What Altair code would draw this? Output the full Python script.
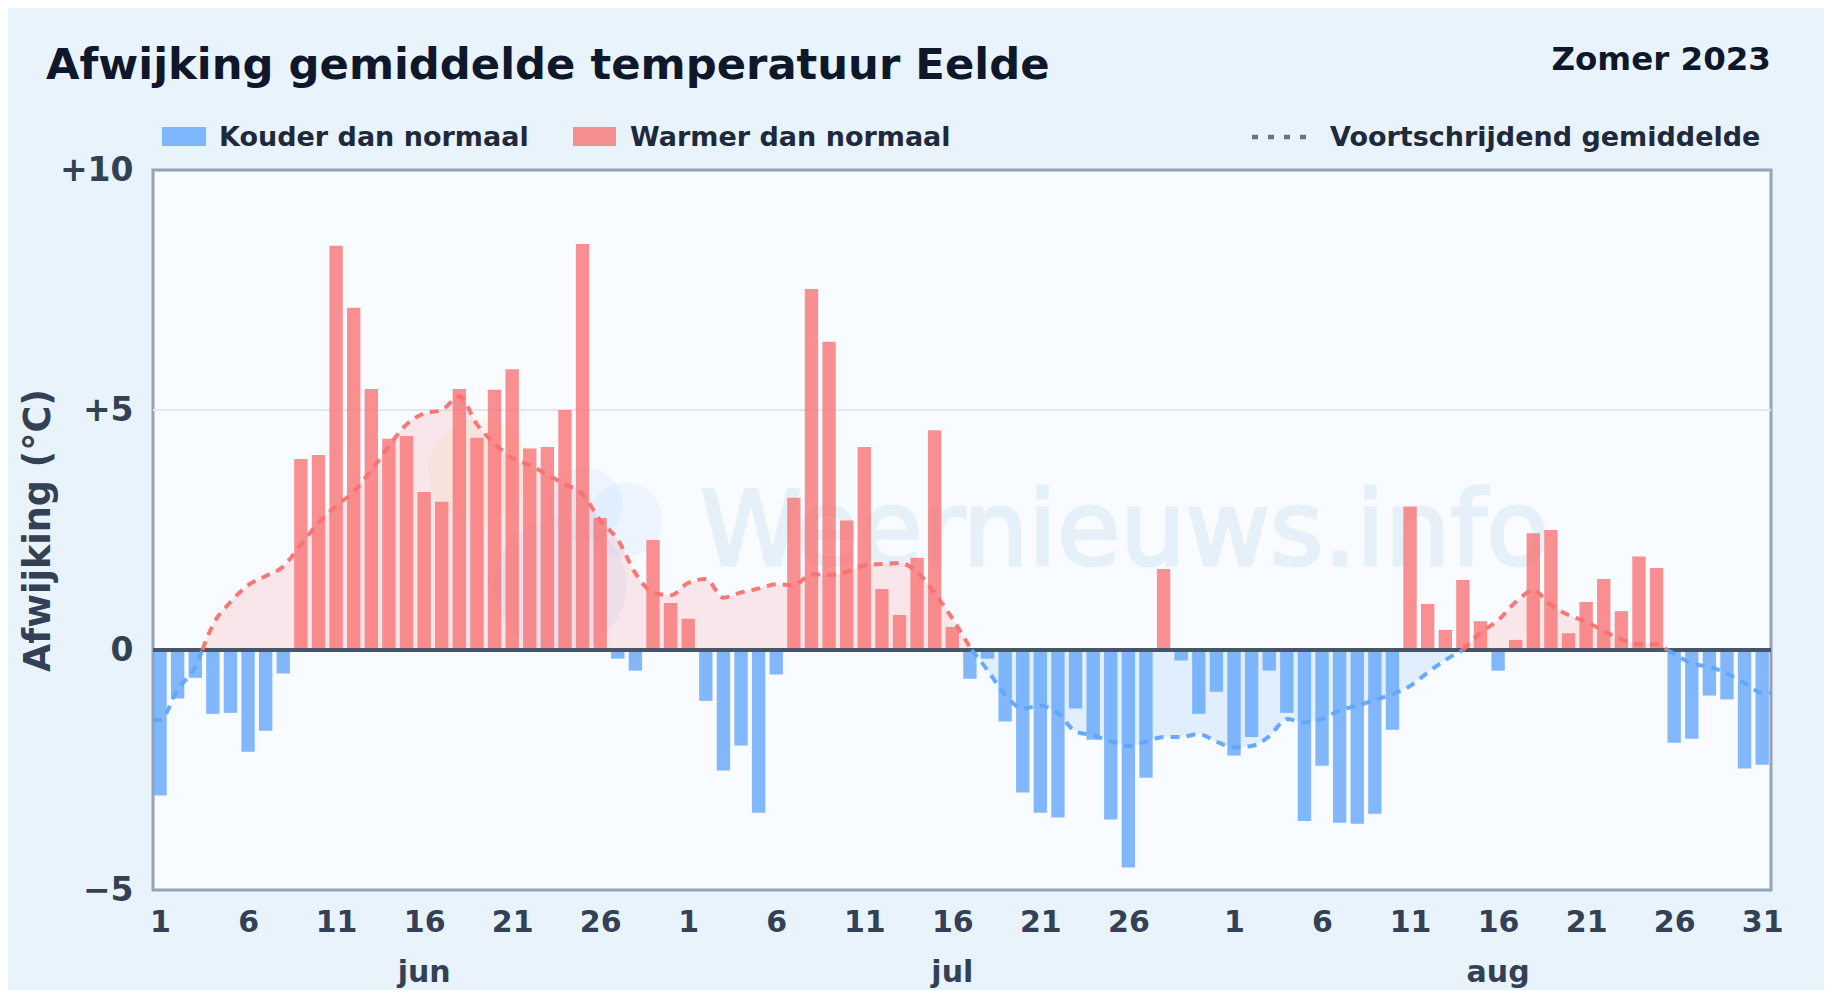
import altair as alt
import pandas as pd

FONT = "DejaVu Sans"
LEFT, TOP, W, H = 153, 170, 1618, 720

values = [
    -3.03, -1.01, -0.58, -1.33, -1.31, -2.12, -1.68, -0.49, 3.98, 4.06, 8.42, 7.13, 5.44, 4.40, 4.46,
    3.29, 3.09, 5.44, 4.42, 5.42, 5.85, 4.20, 4.23, 5.00, 8.46, 2.75, -0.18, -0.43, 2.29, 0.98,
    0.65, -1.06, -2.51, -1.99, -3.39, -0.51, 3.17, 7.52, 6.42, 2.70, 4.23, 1.27, 0.73, 1.92, 4.58,
    0.48, -0.60, -0.18, -1.49, -2.97, -3.39, -3.49, -1.22, -1.87, -3.53, -4.53, -2.66, 1.69, -0.22, -1.33, -0.87,
    -2.20, -1.81, -0.43, -1.31, -3.56, -2.41, -3.60, -3.62, -3.41, -1.66, 2.99, 0.96, 0.42, 1.46, 0.60,
    -0.43, 0.21, 2.43, 2.50, 0.35, 1.00, 1.48, 0.81, 1.95, 1.71, -1.93, -1.85, -0.95, -1.03, -2.47, -2.39,
]
moving = [
    -1.46, -0.82, -0.35, 0.52, 1.00, 1.35, 1.54, 1.74, 2.20, 2.65, 3.00, 3.30, 3.75, 4.25, 4.70,
    4.93, 5.00, 5.28, 4.70, 4.30, 4.00, 3.85, 3.65, 3.45, 3.25, 2.70, 2.30, 1.60, 1.20, 1.14,
    1.40, 1.48, 1.09, 1.20, 1.28, 1.37, 1.35, 1.58, 1.56, 1.63, 1.76, 1.79, 1.81, 1.63, 1.18,
    0.66, 0.06, -0.42, -0.94, -1.22, -1.16, -1.32, -1.70, -1.78, -1.90, -2.00, -1.91, -1.81, -1.81, -1.75, -1.91,
    -2.03, -2.00, -1.80, -1.44, -1.51, -1.44, -1.26, -1.16, -1.04, -0.92, -0.75, -0.47, -0.21, 0.00, 0.36,
    0.62, 1.00, 1.24, 0.94, 0.73, 0.59, 0.40, 0.22, 0.12, 0.12, -0.08, -0.28, -0.35, -0.49, -0.69, -0.89,
]
# day-index positions where the moving average crosses zero
crossings = [2.4, 46.1, 74.0, 85.6]
# segments of the moving average: (start, end, colour, filled)
segments = [
    (-0.4, 2.4, "#60a5fa", False),
    (2.4, 46.1, "#f87171", True),
    (46.1, 74.0, "#60a5fa", True),
    (74.0, 85.6, "#f87171", True),
    (85.6, 91.5, "#60a5fa", False),
]
tick_positions = [0, 5, 10, 15, 20, 25, 30, 35, 40, 45, 50, 55, 61, 66, 71, 76, 81, 86, 91]
tick_labels = ["1", "6", "11", "16", "21", "26", "1", "6", "11", "16", "21", "26", "1", "6", "11", "16", "21", "26", "31"]
months = ["jun", "jul", "aug"]
month_positions = [15.0, 45.0, 76.0]
y_ticks = [-5, 0, 5, 10]
y_labels = ["\u22125", "0", "+5", "+10"]
logo_x = [480, 560, 625, 585]
logo_y = [470, 585, 520, 505]
logo_r = [58, 75, 42, 42]
logo_c = ["#fbbf24", "#93c5fd", "#bfdbfe", "#bfdbfe"]
logo_o = [0.07, 0.13, 0.22, 0.22]

x_scale = alt.Scale(domain=[-0.4, 91.5], nice=False, zero=False)
y_scale = alt.Scale(domain=[-5, 10], nice=False, zero=False)

label_map = "{" + ",".join(f"'{p}':'{l}'" for p, l in zip(tick_positions, tick_labels)) + "}"
ylabel_map = "{" + ",".join(f"'{p}':'{l}'" for p, l in zip(y_ticks, y_labels)) + "}"

x_axis = alt.Axis(
    values=tick_positions, labelExpr=f"{label_map}[datum.value]", title=None, domain=False, ticks=False,
    grid=False, labelFont=FONT, labelFontWeight="bold", labelFontSize=30, labelColor="#334155",
    labelPadding=17, labelOverlap=False, labelFlush=False)
y_axis = alt.Axis(
    values=y_ticks, labelExpr=f"{ylabel_map}[datum.value]", title="Afwijking (\u00b0C)", domain=False, ticks=False,
    grid=False, labelFont=FONT, labelFontWeight="bold", labelFontSize=33, labelColor="#334155",
    labelPadding=20, labelOverlap=False, labelFlush=False, titleFont=FONT, titleFontWeight="bold", titleFontSize=36.5,
    titleColor="#334155", titlePadding=2)

bars = pd.DataFrame({
    "x0": [i - 0.38 for i in range(len(values))],
    "x1": [i + 0.38 for i in range(len(values))],
    "v": values,
    "base": [0.0] * len(values),
})
bars["sign"] = ["warm" if v >= 0 else "cold" for v in values]

line_rows = []
for sid, (a, b, col, fill) in enumerate(segments):
    pts = [(a, 0.0 if a in crossings else moving[0])]
    pts += [(i, m) for i, m in enumerate(moving) if a < i < b]
    pts.append((b, 0.0 if b in crossings else moving[-1]))
    for x, y in pts:
        line_rows.append({"x": x, "y": y, "base": 0.0, "seg": sid, "col": col, "fill": fill})
ma = pd.DataFrame(line_rows)

xenc = alt.X("x:Q", scale=x_scale, axis=x_axis)
yenc = alt.Y("y:Q", scale=y_scale, axis=y_axis)
one = pd.DataFrame({"a": [0]})

grid = alt.Chart(pd.DataFrame({"y": [5]})).mark_rule(color="#e2e8f0", strokeWidth=2).encode(y=yenc)

logo = [
    alt.Chart(one).mark_circle(color=c, opacity=o, size=3.14159 * r * r, stroke=None).encode(
        x=alt.value(x - LEFT), y=alt.value(y - TOP))
    for x, y, r, c, o in zip(logo_x, logo_y, logo_r, logo_c, logo_o)
]


def label(text, x, y, size, color, align="left"):
    return alt.Chart(one).mark_text(
        font=FONT, fontWeight="bold", fontSize=size, color=color, align=align, baseline="alphabetic", text=text
    ).encode(x=alt.value(x - LEFT), y=alt.value(y - TOP))


watermark = alt.Chart(one).mark_text(
    font=FONT, fontSize=103, color="#e6f0f8", stroke="#e6f0f8", strokeWidth=3,
    align="left", baseline="alphabetic", text="Weernieuws.info"
).encode(x=alt.value(700 - LEFT), y=alt.value(565 - TOP))

areas = alt.Chart(ma[ma["fill"]]).mark_area(interpolate="monotone", opacity=0.15).encode(
    x=xenc, y=yenc, y2="base:Q",
    color=alt.Color("col:N", scale=None, legend=None), detail="seg:N",
)
bar_layer = alt.Chart(bars).mark_rect(opacity=0.78).encode(
    x=alt.X("x0:Q", scale=x_scale, axis=x_axis),
    x2="x1:Q",
    y=alt.Y("v:Q", scale=y_scale, axis=y_axis),
    y2="base:Q",
    color=alt.Color("sign:N", scale=alt.Scale(domain=["cold", "warm"], range=["#60a5fa", "#f87171"]), legend=None),
)
zero = alt.Chart(pd.DataFrame({"y": [0]})).mark_rule(color="#475569", strokeWidth=4).encode(y=yenc)
lines = alt.Chart(ma).mark_line(interpolate="monotone", strokeDash=[9, 7], strokeWidth=4, opacity=0.95).encode(
    x=xenc, y=yenc, color=alt.Color("col:N", scale=None, legend=None), detail="seg:N", order="x:Q",
)
month_text = alt.Chart(pd.DataFrame({"x": month_positions, "t": months})).mark_text(
    font=FONT, fontWeight="bold", fontSize=30, color="#334155", align="center", baseline="alphabetic"
).encode(x=xenc, y=alt.value(982 - TOP), text="t:N")


def swatch(x0, x1, color):
    return alt.Chart(one).mark_rect(color=color, opacity=0.78).encode(
        x=alt.value(x0 - LEFT), x2=alt.value(x1 - LEFT), y=alt.value(127 - TOP), y2=alt.value(146 - TOP))


dots = alt.Chart(one).mark_rule(color="#64748b", strokeDash=[6, 10], strokeWidth=4.5).encode(
    x=alt.value(1252 - LEFT), x2=alt.value(1310 - LEFT), y=alt.value(137 - TOP))

chart = alt.layer(
    grid, *logo, watermark, areas, bar_layer, zero, lines, month_text,
    label("Afwijking gemiddelde temperatuur Eelde", 46, 79, 43.3, "#0f172a"),
    label("Zomer 2023", 1771, 70, 32.5, "#0f172a", align="right"),
    swatch(162, 206, "#60a5fa"), label("Kouder dan normaal", 219, 146, 27, "#1e293b"),
    swatch(573, 616, "#f87171"), label("Warmer dan normaal", 630, 146, 27, "#1e293b"),
    dots, label("Voortschrijdend gemiddelde", 1330, 146, 27, "#1e293b"),
).properties(
    width=W, height=H,
    background="#e9f3fc",
    padding={"left": LEFT - 8, "top": TOP - 8, "right": 53, "bottom": 100},
    autosize=alt.AutoSizeParams(type="none"),
).configure_view(fill="#f8fbff", stroke="#94a3b8", strokeWidth=3)

chart.save("out.html", embed_options={"renderer": "svg", "actions": False})
